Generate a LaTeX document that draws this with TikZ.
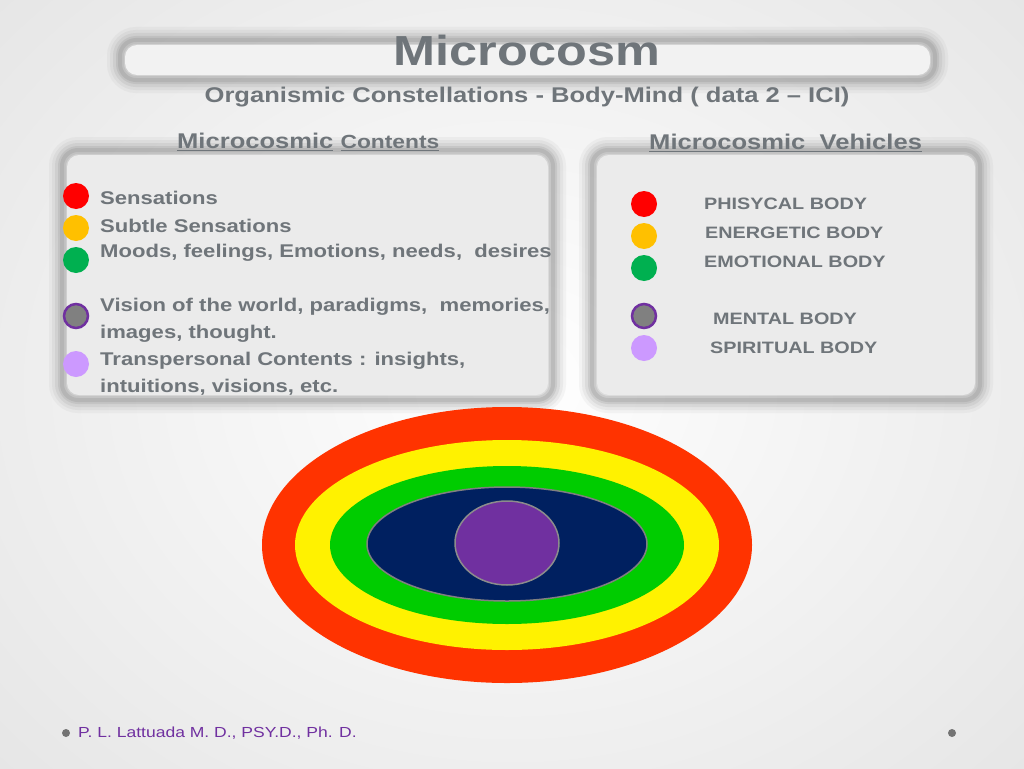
\documentclass[tikz,border=0pt]{standalone}
\usepackage{fontspec}
\setmainfont[FakeStretch=1.2]{Liberation Sans}
\definecolor{tgray}{HTML}{6F757A}
\definecolor{ored}{HTML}{FF3300}
\definecolor{dgreen}{HTML}{00B050}
\definecolor{navy}{HTML}{002060}
\definecolor{purp}{HTML}{7030A0}
\definecolor{lpurp}{HTML}{CC99FF}
\definecolor{gold}{HTML}{FFC000}
\begin{document}
\begin{tikzpicture}[x=1pt,y=-1pt,
  txt/.style={anchor=west,text=tgray,font=\bfseries\fontsize{18.4}{22}\selectfont,align=left,inner sep=0},
  rtxt/.style={anchor=west,text=tgray,font=\bfseries\fontsize{16.5}{20}\selectfont,inner sep=0},
  hdr/.style={text=tgray,font=\bfseries\fontsize{21.3}{24}\selectfont,inner sep=1pt},
  dot/.style={circle,minimum size=26pt,inner sep=0}]
\useasboundingbox (0,0) rectangle (1024,768);
\shade[inner color=white,outer color=black!10] (-200,-200) rectangle (1224,968);
% blurred frames
\foreach \w/\o in {26/0.08,20/0.1,14/0.14,8/0.2,4/0.25}{
 \draw[line width=\w pt,black!45,opacity=\o,rounded corners=16pt] (120,40) rectangle (935,80);
 \draw[line width=\w pt,black!45,opacity=\o,rounded corners=16pt] (62,150) rectangle (553,400);
 \draw[line width=\w pt,black!45,opacity=\o,rounded corners=16pt] (592,150) rectangle (980,400);
}
\fill[black!5,rounded corners=12pt] (125,45) rectangle (930,75);
\fill[black!8,rounded corners=12pt] (67,155) rectangle (548,395);
\fill[black!8,rounded corners=12pt] (597,155) rectangle (975,395);
\node (title) at (527,50) {\bfseries\fontsize{42}{46}\selectfont\color{tgray}Microcosm};
\node[hdr] (sub) at (527,97) {Organismic Constellations - Body-Mind ( data 2 -- ICI)};
\node[hdr,anchor=west] (lh) at (176,142) {\underline{Microcosmic} \fontsize{19}{22}\selectfont\underline{Contents}};
\node[hdr,anchor=west] (rh) at (648,143) {\underline{Microcosmic\ \ Vehicles}};
% left dots
\node[dot,fill=red] (l1) at (76,196) {};
\node[dot,fill=gold] (l2) at (76,228) {};
\node[dot,fill=dgreen] (l3) at (76,260) {};
\node[dot,fill=black!50,draw=purp,line width=2.5pt,minimum size=24pt] (l4) at (76,316) {};
\node[dot,fill=lpurp] (l5) at (76,364) {};
\node[txt] (t1) at (100,198) {Sensations};
\node[txt] (t2) at (100,226) {Subtle Sensations};
\node[txt] (t3) at (100,253) {Moods, feelings, Emotions, needs,\ \ desires};
\node[txt,anchor=north west] (t4) at (100,298) {Vision of the world, paradigms,\ \ memories,\\[5pt] images, thought.\\[5pt] Transpersonal Contents : insights,\\[5pt] intuitions, visions, etc.};
% right dots
\node[dot,fill=red] (r1) at (644,204) {};
\node[dot,fill=gold] (r2) at (644,236) {};
\node[dot,fill=dgreen] (r3) at (644,268) {};
\node[dot,fill=black!50,draw=purp,line width=2.5pt,minimum size=24pt] (r4) at (644,316) {};
\node[dot,fill=lpurp] (r5) at (644,348) {};
\node[rtxt] (v1) at (704,204) {PHISYCAL BODY};
\node[rtxt] (v2) at (705,233) {ENERGETIC BODY};
\node[rtxt] (v3) at (704,262) {EMOTIONAL BODY};
\node[rtxt] (v4) at (713,319) {MENTAL BODY};
\node[rtxt] (v5) at (710,348) {SPIRITUAL BODY};
% ellipses
\fill[ored] (507,545) ellipse [x radius=245,y radius=138];
\fill[yellow] (507,545) ellipse [x radius=212,y radius=105];
\fill[green!80!black] (507,545) ellipse [x radius=177,y radius=79];
\filldraw[fill=navy,draw=black!50,line width=1.5pt] (507,544) ellipse [x radius=140,y radius=57];
\filldraw[fill=purp,draw=black!45,line width=1.5pt] (507,543) ellipse [x radius=52,y radius=42];
% footer
\fill[black!55] (66,733) circle (4);
\fill[black!55] (952,733) circle (4);
\node[anchor=west,text=purp,font=\fontsize{14.6}{18}\selectfont,inner sep=0] (ft) at (78,733) {P. L. Lattuada M. D., PSY.D., Ph. D.};
\end{tikzpicture}
\end{document}
